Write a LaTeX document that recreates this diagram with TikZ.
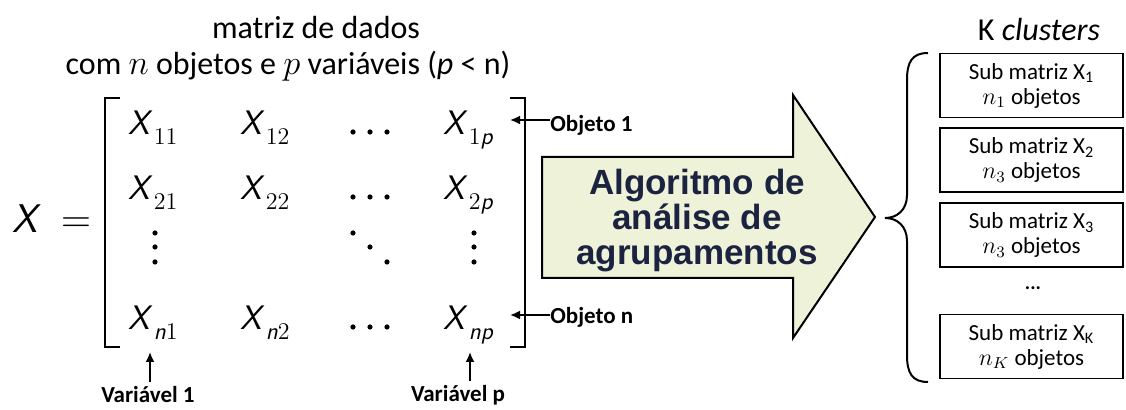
\documentclass[tikz,border=0pt]{standalone}
\usepackage{amsmath}
\usepackage{fontspec}
\setmainfont{Carlito}
\newfontfamily\arrowfont{Liberation Sans}
\usetikzlibrary{arrows.meta}

\definecolor{arrowfill}{HTML}{EEF2D8}
\definecolor{navy}{HTML}{1B2340}

\newcommand{\xv}{\textsf{\textit{X}}}
\newcommand{\sv}[1]{\textsf{\textit{#1}}}
\newcommand{\ent}[1]{\xv\kern0.5pt\raisebox{-5pt}{$\scriptstyle #1$}}

\tikzset{
  entry/.style={anchor=base west, inner sep=0pt, font=\fontsize{17}{20}\selectfont},
  lbl/.style={inner sep=0pt, font=\fontsize{11.5}{13}\selectfont\bfseries},
  ptr/.style={-{Latex[length=5pt,width=4.5pt]}, line width=0.9pt},
  subbox/.style={draw, line width=0.9pt, minimum width=91.5pt, minimum height=32pt,
    inner sep=0pt, align=center, font=\fontsize{11.5}{12.5}\selectfont},
  title/.style={font=\fontsize{16}{19}\selectfont}
}

\begin{document}
\begin{tikzpicture}[x=0.5pt,y=-0.5pt]
    \useasboundingbox (0,0) rectangle (1126,410);

    % Titles
    \node[title] (title1) at (316,28) {matriz de dados};
    \node[title] (title2) at (288,66) {com $n$ objetos e $p$ variáveis (\textit{p} < n)};

    % X =
    \node[anchor=base west, inner sep=0pt, font=\fontsize{20}{24}\selectfont] (xeq) at (12,233) {\xv\hspace{10pt}$=$};

    % Brackets
    \draw[line width=1pt] (120,98) -- (105,98) -- (105,347) -- (120,347);
    \draw[line width=1pt] (510,98) -- (525,98) -- (525,347) -- (510,347);

    % Entries
    \node[entry] (x11) at (128,135) {\ent{11}};
    \node[entry] (x12) at (240,135) {\ent{12}};
    \node[entry] (x1p) at (443,135) {\ent{1\sv{p}}};
    \node[entry] (x21) at (128,200) {\ent{21}};
    \node[entry] (x22) at (240,200) {\ent{22}};
    \node[entry] (x2p) at (443,200) {\ent{2\sv{p}}};
    \node[entry] (xn1) at (128,330) {\ent{\sv{n}1}};
    \node[entry] (xn2) at (240,330) {\ent{\sv{n}2}};
    \node[entry] (xnp) at (443,330) {\ent{\sv{np}}};

    % Dots
    \foreach \y in {132,197,327}
        \foreach \x in {353,370,387}
            \fill (\x,\y) circle (1.3pt);
    \foreach \y in {233,247,262} {
        \fill (155,\y) circle (1.3pt);
        \fill (474,\y) circle (1.3pt);
    }
    \foreach \x/\y in {353/233,370/247,387/262}
        \fill (\x,\y) circle (1.3pt);

    % Objects
    \node[lbl, anchor=west] (obj1) at (550,125) {Objeto 1};
    \node[lbl, anchor=west] (objn) at (550,317) {Objeto n};
    \coordinate (obj1tip) at (510,120);
    \coordinate (objntip) at (510,315);
    \draw[ptr] (obj1.west |- obj1tip) -- (obj1tip);
    \draw[ptr] (objn.west |- objntip) -- (objntip);

    % Variables
    \node[lbl] (var1) at (148,395) {Variável 1};
    \node[lbl] (varp) at (458,395) {Variável p};
    \coordinate (var1tip) at (150,352);
    \coordinate (varptip) at (470,352);
    \draw[ptr, shorten <=2pt] (var1tip |- var1.north) -- (var1tip);
    \draw[ptr, shorten <=2pt] (varptip |- varp.north) -- (varptip);

    % Big arrow
    \draw[fill=arrowfill, line width=1pt] (542,157) -- (793,157) -- (793,95) -- (875,217)
        -- (793,338) -- (793,278) -- (542,278) -- cycle;
    \node[align=center, text=navy, font=\arrowfont\bfseries\fontsize{17.5}{17.5}\selectfont] (algo) at (697,221)
        {Algoritmo de\\análise de\\agrupamentos};

    % Brace
    \draw[line width=1pt] (928,53) .. controls (912,53) and (907,62) .. (907,80) -- (907,195)
        .. controls (907,210) and (897,218) .. (885,218)
        .. controls (897,218) and (907,226) .. (907,241) -- (907,355)
        .. controls (907,373) and (912,382) .. (928,382);

    % Clusters
    \node[title] (kcl) at (1039,30) {K \textit{clusters}};
    \node[subbox] (sub1) at (1031.5,85.5) {Sub matriz X\textsubscript{1}\\$n_{1}$ objetos};
    \node[subbox] (sub2) at (1031.5,160) {Sub matriz X\textsubscript{2}\\$n_{3}$ objetos};
    \node[subbox] (sub3) at (1031.5,235) {Sub matriz X\textsubscript{3}\\$n_{3}$ objetos};
    \node[font=\bfseries] (more) at (1033,288) {...};
    \node[subbox] (subk) at (1031.5,346.5) {Sub matriz X\textsubscript{K}\\$n_{K}$ objetos};
\end{tikzpicture}
\end{document}
